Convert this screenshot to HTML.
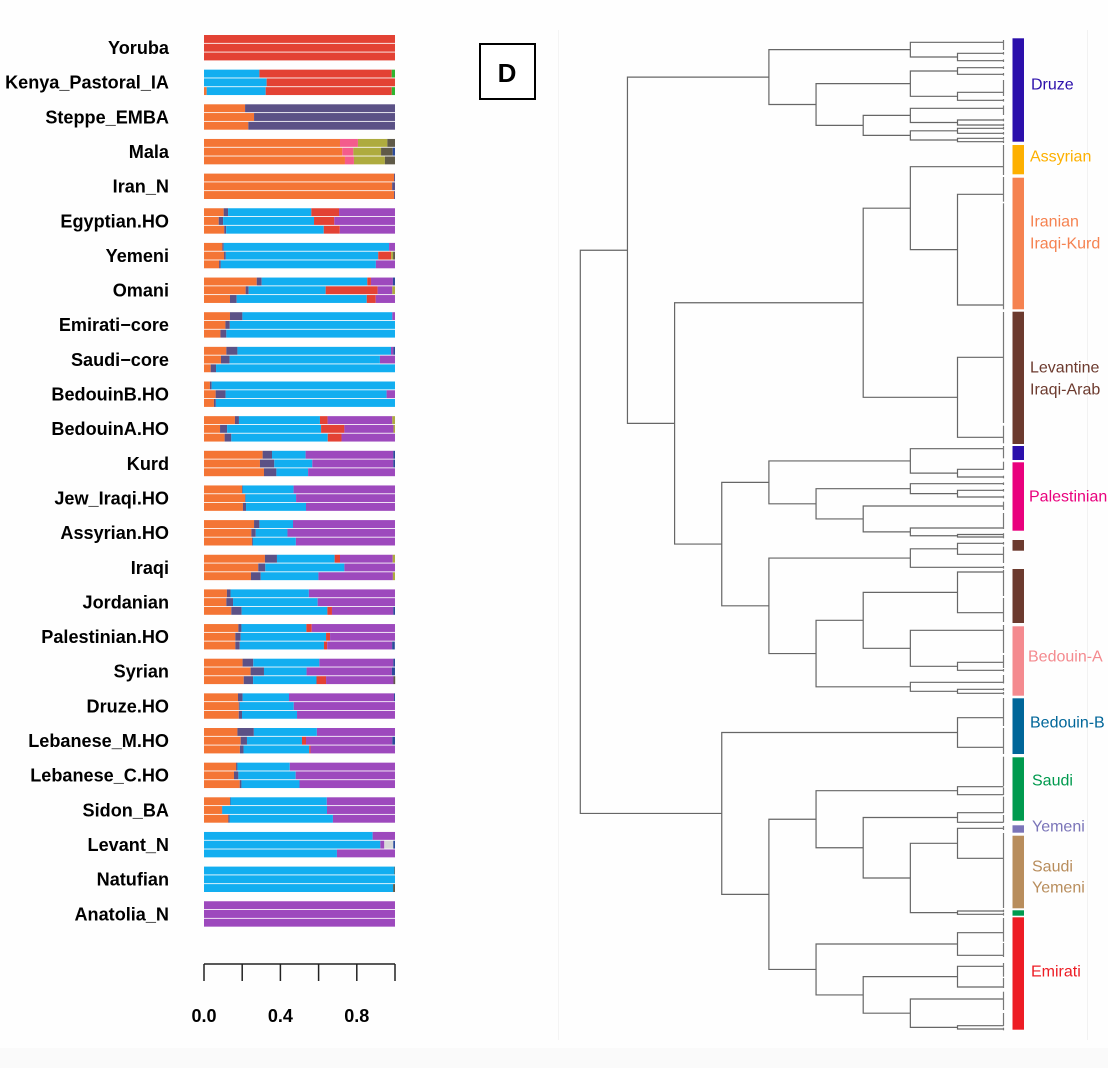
<!DOCTYPE html>
<html lang="en">
<head>
<meta charset="utf-8">
<title>Ancestry bar plot and dendrogram</title>
<style>
html,body{margin:0;padding:0;background:#fff;}
body{width:1108px;height:1068px;overflow:hidden;}
svg{display:block;}
.pop{font:bold 18.1px "Liberation Sans",Arial,sans-serif;fill:#000;text-anchor:end;dominant-baseline:central;}
.tick{font:bold 18px "Liberation Sans",Arial,sans-serif;fill:#000;text-anchor:middle;dominant-baseline:central;}
.group{font:16px "Liberation Sans",Arial,sans-serif;dominant-baseline:central;}
</style>
</head>
<body>
<svg id="figure" xmlns="http://www.w3.org/2000/svg" width="1108" height="1068" viewBox="0 0 1108 1068">
  <rect x="0" y="0" width="1108" height="1068" fill="#fefefe"/>
  <rect x="0" y="1048" width="1108" height="20" fill="#fafafa"/>
  <line x1="558.5" y1="30" x2="558.5" y2="1040" stroke="#f4f4f4"/>
  <line x1="1087.5" y1="30" x2="1087.5" y2="1040" stroke="#f2f2f2"/>
  <rect x="480" y="44" width="55" height="55" fill="#fff" stroke="#000" stroke-width="2"/>
  <text x="507" y="73" text-anchor="middle" dominant-baseline="central" style="font:bold 26px 'Liberation Sans',Arial,sans-serif">D</text>
  <g id="bars"></g>
  <g id="axis"></g>
  <g id="tree"></g>
  <g id="groups"></g>
</svg>
<script>
const populations = ["Yoruba","Kenya_Pastoral_IA","Steppe_EMBA","Mala","Iran_N","Egyptian.HO","Yemeni","Omani","Emirati\u2212core","Saudi\u2212core","BedouinB.HO","BedouinA.HO","Kurd","Jew_Iraqi.HO","Assyrian.HO","Iraqi","Jordanian","Palestinian.HO","Syrian","Druze.HO","Lebanese_M.HO","Lebanese_C.HO","Sidon_BA","Levant_N","Natufian","Anatolia_N"];
const componentColors = ["#f47535","#5b5186","#12aef0","#e34234","#f45b8c","#9d49bd","#aeab3e","#5f5a48","#d8d8d8","#2b4b9b","#2fb52f"];
const componentNames = ["orange","slate","blue","red","pink","purple","olive","dark","gray","navy","green"];
// each sample: orange, slate, blue, red, pink, purple, olive, dark, gray, navy, green
const yoruba = [[0,0,0,1],[0,0,0,1],[0,0,0,1]];
const kenya = [[0,0,.29,.693,0,0,0,0,0,0,.017],[0,0,.328,.672],[.014,0,.309,.66,0,0,0,0,0,0,.017]];
const steppe = [[.215,.785],[.262,.738],[.232,.768]];
const mala = [[.712,0,0,0,.094,0,.154,.04],[.724,0,0,0,.058,0,.145,.061,0,.012],[.738,0,0,0,.047,0,.162,.053]];
const iran = [[.995,.005],[.985,.015],[.995,.005]];
const egyptian = [[.103,.023,.436,.145,0,.293],[.077,.023,.476,.106,0,.318],[.106,.01,.511,.084,0,.289]];
const yemeni = [[.096,.007,.866,0,0,.031],[.105,.009,.798,.068,0,0,.01,.01],[.079,.009,.812,0,0,.1]];
const omani = [[.276,.026,.553,.019,0,.115,0,0,0,.011],[.218,.016,.403,.272,0,.077,.014],[.136,.035,.681,.047,0,.101]];
const emirati = [[.136,.065,.785,0,0,.014],[.112,.023,.865],[.086,.031,.883]];
const saudi = [[.117,.058,.804,0,0,.012,0,0,0,.009],[.089,.045,.787,0,0,.079],[.035,.028,.937]];
const bedouinB = [[.031,.009,.96],[.061,.052,.843,0,0,.044],[.052,.01,.938]];
const bedouinA = [[.162,.021,.424,.04,0,.339,.014],[.084,.037,.492,.122,0,.257,.008],[.108,.035,.505,.072,0,.28]];
const kurd = [[.307,.049,.176,0,0,.459,0,0,0,.009],[.293,.075,.199,0,0,.424,0,0,0,.009],[.314,.065,.166,0,0,.455]];
const jewIraqi = [[.199,.003,.267,0,0,.531],[.215,.003,.264,0,0,.518],[.204,.016,.314,0,0,.466]];
const assyrian = [[.262,.028,.176,0,0,.534],[.248,.023,.166,0,0,.563],[.251,.005,.225,0,0,.519]];
const iraqi = [[.319,.063,.302,.028,0,.276,.012],[.284,.037,.414,0,0,.265],[.246,.051,.302,0,0,.39,.011]];
const jordanian = [[.12,.019,.41,0,0,.451],[.117,.035,.443,0,0,.405],[.143,.054,.449,.024,0,.321,0,0,0,.009]];
const palestinian = [[.18,.016,.34,.028,0,.436],[.164,.028,.447,.021,0,.34],[.164,.023,.441,.017,0,.34,0,0,0,.014]];
const syrian = [[.202,.056,.346,0,0,.387,0,0,0,.009],[.244,.07,.223,0,0,.447,0,0,0,.016],[.208,.049,.332,.05,0,.353,0,.009]];
const druze = [[.178,.024,.243,0,0,.55,0,0,0,.005],[.182,.005,.283,0,0,.53],[.182,.017,.288,0,0,.513]];
const lebaneseM = [[.175,.086,.33,0,0,.409],[.192,.033,.288,.021,0,.452,0,0,0,.014],[.188,.019,.344,.007,0,.442]];
const lebaneseC = [[.168,.007,.274,0,0,.551],[.157,.023,.3,0,0,.52],[.187,.009,.304,0,0,.5]];
const sidon = [[.136,.003,.504,0,0,.357],[.094,.002,.548,0,0,.356],[.127,.007,.541,0,0,.325]];
const levant = [[0,0,.883,0,0,.117],[0,0,.923,0,0,.021,0,0,.047,.009],[0,0,.696,0,0,.304]];
const natufian = [[0,0,.997,0,0,0,0,.003],[0,0,1],[0,0,.99,0,0,0,0,.01]];
const anatolia = [[0,0,0,0,0,1],[0,0,0,0,0,1],[0,0,0,0,0,1]];
const samples = [yoruba,kenya,steppe,mala,iran,egyptian,yemeni,omani,emirati,saudi,bedouinB,bedouinA,kurd,jewIraqi,assyrian,iraqi,jordanian,palestinian,syrian,druze,lebaneseM,lebaneseC,sidon,levant,natufian,anatolia];
const axisTicks = [0,0.2,0.4,0.6,0.8,1];
const axisLabels = ["0.0","0.4","0.8"];

// dendrogram: node = [depth, childA, childB]; leaf = y or L(y, spanTop, spanBottom)
function L(y,t,b){return {y:y,t:t,b:b};}
const druzeClade = [4,[7,L(42.3,40,50),[8,53.3,60.7]],[5,[7,[8,67.7,74.3],[8,L(92.3,80,96),100.3]],[6,[7,L(108.3,105.5,115),[8,120,125]],[7,[8,128.3,133.3],[8,138.3,141.7]]]]];
const westAsiaClade = [6,[7,L(166.7,145,175),[8,L(194.3,177,201.7),L(305,203.3,309.3)]],[8,L(357.3,312,423),L(437.3,425.7,443.3)]];
const palestinianClade = [4,[7,L(448.7,446,458.3),[8,L(469.3,461.7,470),477]],[5,[7,483.7,[8,490.3,497]],[6,L(506,501.7,510),[7,L(528,513,529),[8,534.5,537]]]]];
const bedouinClade = [4,[7,[8,543.3,L(554.3,546.7,563)],567.3],[5,[6,[8,L(572,570,596),L(612.7,598,622)],[7,L(630.3,625,653),[8,L(662.3,655,668),670.3]]],[7,L(682.3,675,683.5),[8,689.3,693.3]]]];
const bedouinBClade = [8,L(717.7,698,726),L(747.3,728,754)];
const saudiClade = [5,[8,L(786.7,756.7,786),L(794.7,787.5,795)],[6,[8,L(812.7,796.7,813),L(822.3,815,822.5)],[7,[8,L(828.3,826,830),L(858.3,833,908)],[8,911,914.3]]]];
const emiratiClade = [5,[8,L(932.7,918,941.7),L(955.3,943,957)],[6,[8,L(966.3,963,976.7),L(987,978,988)],[7,L(999,991.7,1010),[8,L(1025.7,1013,1026),1029]]]];
const tree = [0,[1,druzeClade,[2,westAsiaClade,[3,palestinianClade,bedouinClade]]],[3,bedouinBClade,[4,saudiClade,emiratiClade]]];

const stripNames = ["Druze","Assyrian","Iranian Iraqi-Kurd","Levantine Iraqi-Arab","Druze-minor","Palestinian","Levantine-minor-a","Levantine-minor-b","Bedouin-A","Bedouin-B","Saudi","Yemeni","Saudi Yemeni","Saudi-minor","Emirati"];
const stripColors = ["#2b0fab","#fdb000","#f58250","#6c3a2e","#2b0fab","#e9007d","#6c3a2e","#6c3a2e","#f48a8f","#006699","#009a4e","#7a74b8","#b88d5c","#009a4e","#ed1c24"];
const stripTops = [38.3,145,177.7,311.7,446,462.3,540,569,626.3,698.3,757.3,825.3,835.7,910.3,917.3];
const stripBottoms = [141.7,174.3,309.3,444,460,530.7,550.7,623,695.7,754,820.7,832.7,908.3,915.7,1029.7];
const groupLabels = ["Druze","Assyrian","Iranian","Iraqi-Kurd","Levantine","Iraqi-Arab","Palestinian","Bedouin-A","Bedouin-B","Saudi","Yemeni","Saudi","Yemeni","Emirati"];
const groupLabelColors = ["#2b0fab","#fdb000","#f58250","#f58250","#6c3a2e","#6c3a2e","#e9007d","#f48a8f","#006699","#009a4e","#7a74b8","#b88d5c","#b88d5c","#ed1c24"];
const groupLabelY = [85,157,222,244,368,390,497,657,723,781,827,867,888,972];
const groupLabelX = [1031,1030,1030,1030,1030,1030,1029,1028,1030,1032,1032,1032,1032,1031];

const NS = "http://www.w3.org/2000/svg";
function mk(parent,tag,attrs){
  const el = document.createElementNS(NS,tag);
  for(const k in attrs){el.setAttribute(k,attrs[k]);}
  parent.appendChild(el);
  return el;
}
const barX0 = 204, barW = 191;
const xScale = v => barX0 + v*barW;
const groupTop = i => 35 + 34.65*i;
const rowTop = (i,r) => groupTop(i) + 8.75*r;

const barsG = document.getElementById("bars");
populations.forEach((name,i)=>{
  const label = mk(barsG,"text",{x:169,y:groupTop(i)+13,class:"pop"});
  label.textContent = name;
  
  
  samples[i].forEach((row,r)=>{
    let cum = 0;
    row.forEach((v,c)=>{
      if(!v) return;
      const seg = mk(barsG,"rect",{x:xScale(cum),y:rowTop(i,r),width:xScale(cum+v)-xScale(cum),height:7.9,fill:componentColors[c]});
      
      
      cum += v;
    });
  });
});

const axisG = document.getElementById("axis");
const axisLine = mk(axisG,"line",{x1:xScale(axisTicks[0]),x2:xScale(axisTicks[axisTicks.length-1]),y1:964,y2:964,stroke:"#222","stroke-width":1.5});


axisTicks.forEach(t=>{
  const tk = mk(axisG,"line",{x1:xScale(t),x2:xScale(t),y1:964,y2:981,stroke:"#222","stroke-width":1.5});
  
  
});
axisLabels.forEach(s=>{
  const tl = mk(axisG,"text",{x:xScale(parseFloat(s)),y:1016,class:"tick"});
  tl.textContent = s;
  
  
});

const treeG = document.getElementById("tree");
const depthX = d => 580.3 + 47.15*d;
const tipX = 1003.5;
const isNode = n => Array.isArray(n);
const leafY = n => typeof n === "number" ? n : n.y;
function nodeY(n){return isNode(n) ? (nodeY(n[1])+nodeY(n[2]))/2 : leafY(n);}
function drawNode(n){
  if(!isNode(n)){
    const y = leafY(n);
    const t = typeof n === "number" ? y-1.3 : n.t;
    const b = typeof n === "number" ? y+1.3 : n.b;
    const tip = mk(treeG,"line",{x1:tipX,x2:tipX,y1:t,y2:b,stroke:"#777","stroke-width":1.2});
    
    
    return;
  }
  const x = depthX(n[0]);
  const ya = nodeY(n[1]), yb = nodeY(n[2]);
  const xa = isNode(n[1]) ? depthX(n[1][0]) : tipX;
  const xb = isNode(n[2]) ? depthX(n[2][0]) : tipX;
  const d = "M"+xa+" "+ya+"H"+x+"V"+yb+"H"+xb;
  const p = mk(treeG,"path",{d:d,fill:"none",stroke:"#666","stroke-width":1.2});
  
  
  drawNode(n[1]);
  drawNode(n[2]);
}
drawNode(tree);

const groupsG = document.getElementById("groups");
stripNames.forEach((nm,i)=>{
  const r = mk(groupsG,"rect",{x:1012.5,y:stripTops[i],width:11.5,height:stripBottoms[i]-stripTops[i],fill:stripColors[i]});
  
  
});
groupLabels.forEach((s,i)=>{
  const t = mk(groupsG,"text",{x:groupLabelX[i],y:groupLabelY[i],class:"group",fill:groupLabelColors[i]});
  t.textContent = s;
  
  
});
</script>
</body>
</html>
